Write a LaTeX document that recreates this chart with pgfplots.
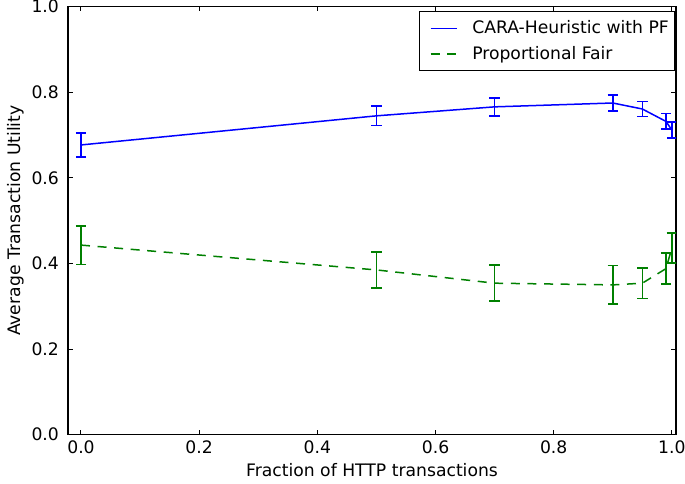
\documentclass[border=0pt]{standalone}
\usepackage{fontspec}
\setmainfont{DejaVu Sans}
\usepackage{pgfplots}
\pgfplotsset{compat=1.18}
\definecolor{mplblue}{rgb}{0,0,1}
\definecolor{mplgreen}{rgb}{0,0.5,0}
\begin{document}
\fontsize{8.6}{10.5}\selectfont
\begin{tikzpicture}
\begin{axis}[
  width=304pt, height=214pt, scale only axis,
  xmin=-0.022, xmax=1.007, ymin=0, ymax=1,
  xtick={0,0.2,0.4,0.6,0.8,1.0}, ytick={0,0.2,0.4,0.6,0.8,1.0},
  xticklabel style={/pgf/number format/.cd,fixed,fixed zerofill,precision=1},
  yticklabel style={xshift=-1.5pt,/pgf/number format/.cd,fixed,fixed zerofill,precision=1},
  /pgf/number format/assume math mode=true,
  tick align=inside, major tick length=2.3pt, tick style={black, line width=0.5pt},
  axis line style={line width=0.6pt},
  xlabel={Fraction of HTTP transactions},
  ylabel={Average Transaction Utility},
  xlabel style={yshift=1pt}, ylabel style={yshift=-2pt},
  legend style={at={(0.999,0.99)}, anchor=north east, draw=black, line width=0.6pt,
    font=\fontsize{8.6}{10.5}\selectfont, inner xsep=1pt, inner ysep=2.5pt, row sep=1pt, cells={anchor=west}},
  legend cell align=left,
  legend image code/.code={\path (-1.5pt,0pt); \draw[#1] (2.5pt,0pt) -- (15.5pt,0pt); \path (21pt,0pt);},
]
% x, y, error
\addplot[mplblue, line width=0.75pt, mark=none,
  error bars/.cd, y dir=both, y explicit,
  error bar style={mplblue, line width=0.75pt}, error mark options={mplblue, rotate=90, mark size=2.6pt, line width=0.75pt}]
  coordinates {
  (0.00,0.677) +- (0,0.028)
  (0.50,0.745) +- (0,0.0225)
  (0.70,0.766) +- (0,0.021)
  (0.90,0.775) +- (0,0.019)
  (0.95,0.761) +- (0,0.018)
  (0.99,0.732) +- (0,0.018)
  (1.00,0.712) +- (0,0.019)
};
\addlegendentry{CARA-Heuristic with PF}
\addplot[mplgreen, line width=0.75pt, mark=none, dash pattern=on 4.5pt off 3.8pt,
  error bars/.cd, y dir=both, y explicit,
  error bar style={mplgreen, line width=0.75pt, solid}, error mark options={mplgreen, rotate=90, mark size=2.6pt, line width=0.75pt, solid}]
  coordinates {
  (0.00,0.443) +- (0,0.045)
  (0.50,0.385) +- (0,0.042)
  (0.70,0.354) +- (0,0.042)
  (0.90,0.350) +- (0,0.045)
  (0.95,0.354) +- (0,0.036)
  (0.99,0.388) +- (0,0.036)
  (1.00,0.436) +- (0,0.035)
};
\addlegendentry{Proportional Fair}
\end{axis}
\pgfresetboundingbox
\path ([shift={(-34pt,-24.15pt)}]current axis.south west) rectangle ([shift={(4.5pt,3.35pt)}]current axis.north east);
\end{tikzpicture}
\end{document}
